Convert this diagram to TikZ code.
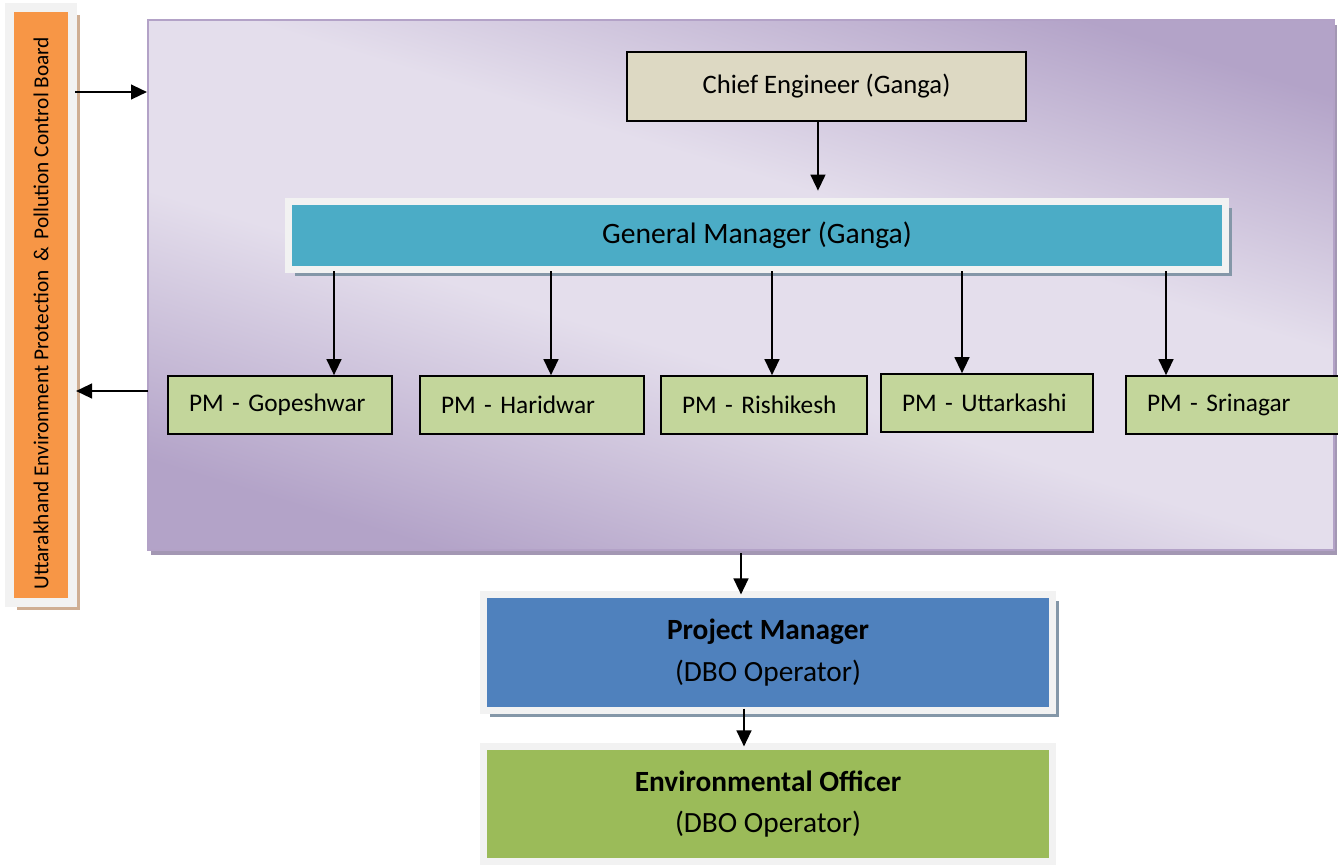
\documentclass[tikz,border=0pt]{standalone}
\usepackage{fontspec}
\setmainfont{Carlito}
\usetikzlibrary{arrows.meta,shadows}

\definecolor{boardorange}{HTML}{F79646}
\definecolor{boardshadow}{HTML}{CFAE93}
\definecolor{framegray}{HTML}{F2F2F2}
\definecolor{teamborder}{HTML}{B3A2C7}
\definecolor{teamlight}{HTML}{E4DEEC}
\definecolor{teamdark}{HTML}{B3A3C8}
\definecolor{teamshadow}{HTML}{A397B3}
\definecolor{chieffill}{HTML}{DDD9C3}
\definecolor{gmfill}{HTML}{4BACC6}
\definecolor{pmfill}{HTML}{C3D69B}
\definecolor{pmanfill}{HTML}{4F81BD}
\definecolor{eofill}{HTML}{9BBB59}
\definecolor{boxshadow}{HTML}{8497A8}

\pgfdeclarehorizontalshading{teamwash}{100bp}{color(0bp)=(teamdark); color(25bp)=(teamdark);
  color(44bp)=(teamlight); color(58bp)=(teamlight); color(76bp)=(teamdark); color(100bp)=(teamdark)}

\tikzset{
  framed/.style={draw=framegray, line width=5.25pt, inner sep=0pt},
  pmbox/.style={draw=black, line width=1.2pt, fill=pmfill, minimum height=43.5pt,
    inner xsep=15.75pt, inner ysep=0pt, align=left, font=\fontsize{19}{22}\selectfont},
  arr/.style={line width=1.7pt, -{Triangle[length=12pt,width=11pt]}}
}

\begin{document}
\begin{tikzpicture}[x=0.75pt,y=0.75pt,yscale=-1,xscale=1]
\useasboundingbox (0,0) rectangle (1338,865);

%Shape: Rectangle (big team box)
\node[minimum width=889.5pt, minimum height=397.5pt, draw=teamborder, line width=1.5pt,
  shading=teamwash, shading angle=73,
  drop shadow={shadow xshift=2pt, shadow yshift=-4pt, fill=teamshadow, opacity=1}]
  (team) at (741,285) {};

%Shape: Rectangle (side board)
\node[minimum width=446.25pt, minimum height=47.25pt, inner sep=0pt, rotate=90,
  fill=boardorange, draw=framegray, line width=6.75pt,
  drop shadow={shadow xshift=5.6pt, shadow yshift=-5.6pt, fill=boardshadow, opacity=1},
  font=\fontsize{16}{19}\selectfont]
  (board) at (41,305) {Uttarakhand Environment Protection \,\&\, Pollution Control Board\hspace*{12pt}};

%Shape: Rectangle (chief engineer)
\node[minimum width=299.25pt, minimum height=51.75pt, draw=black, line width=1pt,
  fill=chieffill, font=\fontsize{20}{23}\selectfont] (ce) at (826.5,86.5)
  {Chief Engineer (Ganga)};

%Shape: Rectangle (general manager)
\node[minimum width=702.75pt, minimum height=51pt, fill=gmfill, framed,
  drop shadow={shadow xshift=4.5pt, shadow yshift=-4.5pt, fill=boxshadow, opacity=1},
  font=\fontsize{22.2}{25}\selectfont] (gm) at (757,235.5) {General Manager (Ganga)};

%Shape: Rectangle (project managers)
\node[pmbox, text width=136.5pt] (pmgop) at (280,405) {PM - Gopeshwar};
\node[pmbox, text width=136.5pt] (pmhar) at (532,405) {PM - Haridwar};
\node[pmbox, text width=123pt] (pmris) at (764,405) {PM - Rishikesh};
\node[pmbox, text width=127.5pt] (pmutt) at (987,403) {PM - Uttarkashi};
\node[pmbox, text width=131.25pt] (pmsri) at (1234.5,405) {PM - Srinagar};

%Shape: Rectangle (DBO project manager)
\node[minimum width=426.75pt, minimum height=87pt, fill=pmanfill, framed, align=center,
  drop shadow={shadow xshift=4.5pt, shadow yshift=-4.5pt, fill=boxshadow, opacity=1},
  font=\fontsize{22}{31}\selectfont] (pman) at (768,652.5)
  {\textbf{Project Manager}\\(DBO Operator)};

%Shape: Rectangle (environmental officer)
\node[minimum width=426.75pt, minimum height=86.25pt, fill=eofill, framed, align=center,
  font=\fontsize{22}{31}\selectfont] (eo) at (768,804)
  {\textbf{Environmental Officer}\\(DBO Operator)};

%Straight Lines
\coordinate (toteam) at (75,92);
\draw[arr] (toteam) -- (toteam -| team.west);
\coordinate (fromteam) at (148,391);
\draw[arr] (fromteam) -- (76,391);
\draw[arr] ([xshift=-6.4pt]ce.south) -- ++(0,69);
\foreach \x/\pm in {334/pmgop, 551/pmhar, 772/pmris, 962/pmutt, 1166/pmsri}{
  \coordinate (g\pm) at (\x,271);
  \draw[arr] (g\pm) -- (g\pm |- \pm.north);
}
\draw[arr] (team.south) ++(0,2) -- ([shift={(-20.25pt,2.6pt)}]pman.north);
\draw[arr] ([shift={(-18pt,-4pt)}]pman.south) -- ([shift={(-18pt,2.6pt)}]eo.north);

\end{tikzpicture}
\end{document}
